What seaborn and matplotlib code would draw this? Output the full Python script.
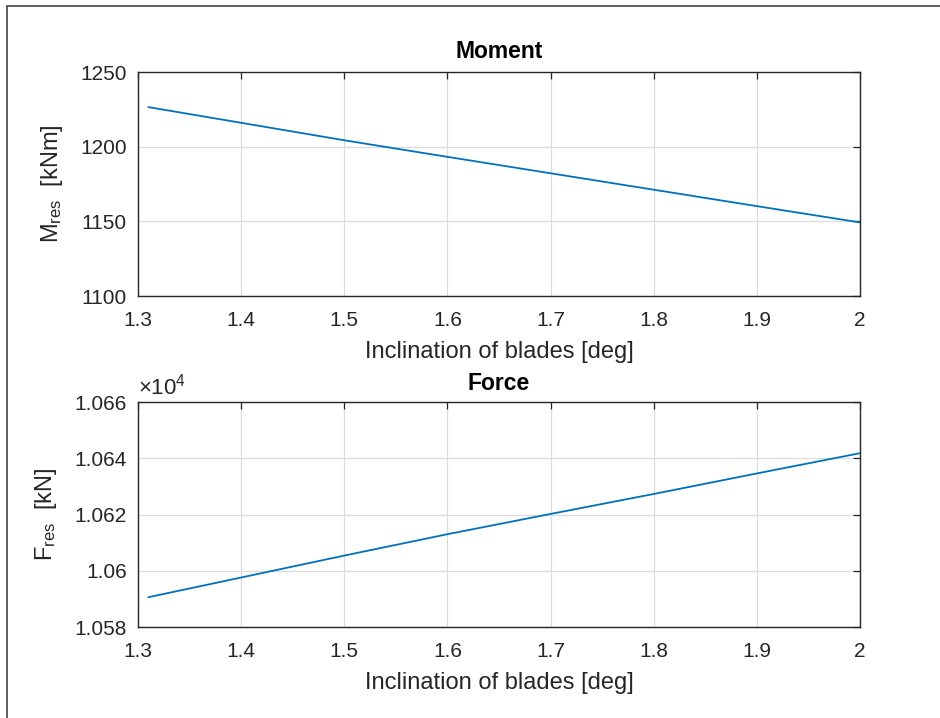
import numpy as np
import pandas as pd
import matplotlib
matplotlib.use("Agg")
import matplotlib.pyplot as plt
import seaborn as sns
from matplotlib.lines import Line2D
from matplotlib.ticker import FuncFormatter

# values
incl = [1.31, 1.4, 1.5, 1.6, 1.7, 1.8, 1.9, 2.0]
moment = [1226.5, 1216.0, 1204.3, 1193.2, 1182.2, 1171.2, 1160.2, 1149.3]
force = [10590.6, 10597.6, 10605.4, 10613.0, 10620.2, 10627.3, 10634.6, 10641.8]

x_ticks = [1.3, 1.4, 1.5, 1.6, 1.7, 1.8, 1.9, 2.0]
m_ticks = [1100, 1150, 1200, 1250]
f_ticks = [10580, 10600, 10620, 10640, 10660]

df = pd.DataFrame({'incl': incl, 'moment': moment, 'force': force})

sns.set_theme(style="white")
plt.rcParams['font.family'] = ['Liberation Sans', 'DejaVu Sans']
plt.rcParams['mathtext.fontset'] = 'custom'
plt.rcParams['mathtext.rm'] = 'Liberation Sans'
plt.rcParams['mathtext.it'] = 'Liberation Sans:italic'

line_col = '#0072BD'
txt_col = '#262626'

fig = plt.figure(figsize=(9.4, 7.18), dpi=100)
ax1 = fig.add_axes([0.1468, 0.5877, 0.768, 0.312])
ax2 = fig.add_axes([0.1468, 0.1267, 0.768, 0.3134])

sns.lineplot(x='incl', y='moment', data=df, ax=ax1, color=line_col, linewidth=1.3)
sns.lineplot(x='incl', y='force', data=df, ax=ax2, color=line_col, linewidth=1.3)

for ax in (ax1, ax2):
    ax.set_xlim(1.3, 2.0)
    ax.set_xticks(x_ticks)
    ax.xaxis.set_major_formatter(FuncFormatter(lambda v, p: '%g' % round(v, 2)))
    ax.grid(True, color='#dcdcdc', linewidth=0.9)
    ax.tick_params(direction='in', length=5, width=0.9, colors=txt_col,
                   labelsize=15, top=True, right=True)
    ax.tick_params(axis='x', pad=11)
    ax.tick_params(axis='y', pad=8)
    for s in ax.spines.values():
        s.set_color(txt_col)
        s.set_linewidth(1.0)
    ax.set_xlabel('Inclination of blades [deg]', fontsize=17, color=txt_col, labelpad=8)

ax1.set_ylim(1100, 1250)
ax1.set_yticks(m_ticks)
ax1.set_ylabel(r'M$_{\mathrm{res}}$  [kNm]', fontsize=17, color=txt_col, labelpad=11)
ax1.set_title('Moment', fontsize=16.5, fontweight='bold', color='black', pad=10)

ax2.set_ylim(10580, 10660)
ax2.set_yticks(f_ticks)
ax2.yaxis.set_major_formatter(FuncFormatter(lambda v, p: '%g' % round(v / 1e4, 4)))
ax2.set_ylabel(r'F$_{\mathrm{res}}$  [kN]', fontsize=17, color=txt_col, labelpad=11)
ax2.set_title('Force', fontsize=16.5, fontweight='bold', color='black', pad=9)
ax2.text(0.0, 1.01, r'$\times$10$^{4}$', transform=ax2.transAxes, fontsize=16,
         color=txt_col, ha='left', va='bottom')

# screenshot frame
fig.add_artist(Line2D([7 / 940, 1.0], [1 - 6 / 718, 1 - 6 / 718], transform=fig.transFigure,
                      color='#444444', linewidth=1.2))
fig.add_artist(Line2D([7 / 940, 7 / 940], [0.0, 1 - 6 / 718], transform=fig.transFigure,
                      color='#444444', linewidth=1.2))

fig.savefig('out.png', dpi=100)
